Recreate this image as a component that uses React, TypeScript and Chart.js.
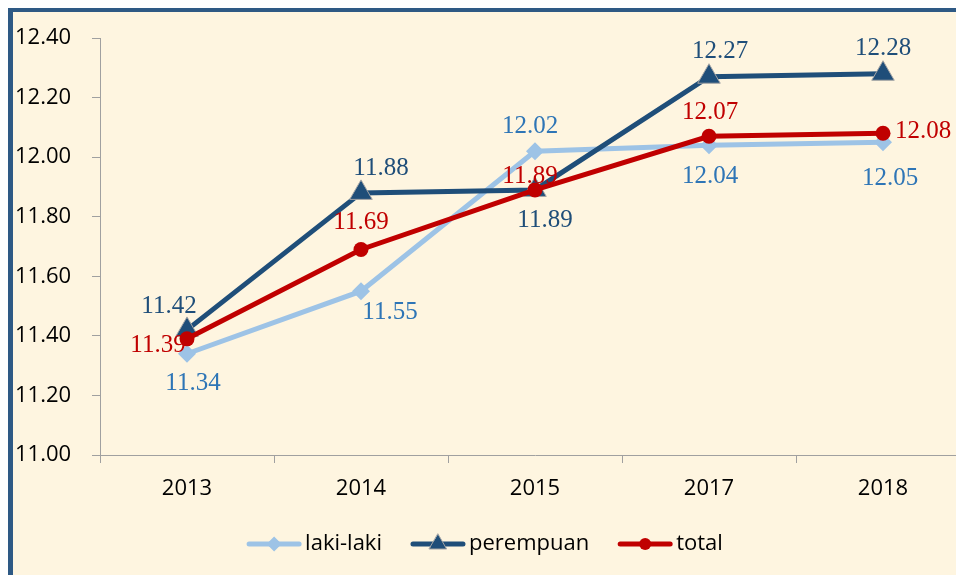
import React, { useEffect, useRef } from "react";
import { Chart, registerables } from "chart.js";

Chart.register(...registerables);

const years = ["2013", "2014", "2015", "2017", "2018"];
const lakiLaki = [11.34, 11.55, 12.02, 12.04, 12.05];
const perempuan = [11.42, 11.88, 11.89, 12.27, 12.28];
const total = [11.39, 11.69, 11.89, 12.07, 12.08];
const seriesNames = ["laki-laki", "perempuan", "total"];
const yMin = 11;
const yMax = 12.4;
const yStep = 0.2;

// label placement (dx, dy from point) per series
const labelOffsets = [
  [[6, 30], [29, 21], [-5, -25], [1, 31], [7, 36]],
  [[-18, -23], [20, -24], [10, 31], [11, -25], [0, -25]],
  [[-29, 7], [0, -27], [-5, -13], [1, -24], [40, -2]],
];

const lineColors = ["#9DC3E6", "#1F4E79", "#C00000"];
const labelColors = ["#2E75B6", "#1F4E79", "#C00000"];
const markers = ["rectRot", "triangle", "circle"];

const tickFont = { family: "'Open Sans', sans-serif", size: 22 };
const labelFont = "25px 'Liberation Serif', serif";

function drawMarker(ctx: CanvasRenderingContext2D, kind: string, x: number, y: number, r: number, fill: string) {
  ctx.save();
  ctx.fillStyle = fill;
  ctx.beginPath();
  if (kind === "rectRot") {
    ctx.moveTo(x - r, y);
    ctx.lineTo(x, y - r);
    ctx.lineTo(x + r, y);
    ctx.lineTo(x, y + r);
    ctx.closePath();
    ctx.fill();
  } else if (kind === "triangle") {
    ctx.moveTo(x, y - r);
    ctx.lineTo(x + r * 0.866, y + r * 0.5);
    ctx.lineTo(x - r * 0.866, y + r * 0.5);
    ctx.closePath();
    ctx.fill();
    ctx.strokeStyle = "#A5A5A5";
    ctx.lineWidth = 1;
    ctx.stroke();
  } else {
    ctx.arc(x, y, r, 0, Math.PI * 2);
    ctx.fill();
  }
  ctx.restore();
}

const dataLabelPlugin = {
  id: "dataLabelPlugin",
  afterDatasetsDraw(chart: any) {
    const ctx: CanvasRenderingContext2D = chart.ctx;
    ctx.save();
    ctx.font = labelFont;
    ctx.textAlign = "center";
    ctx.textBaseline = "middle";
    chart.data.datasets.forEach((ds: any, i: number) => {
      const meta = chart.getDatasetMeta(i);
      meta.data.forEach((pt: any, j: number) => {
        const v = ds.data[j] as number;
        const [dx, dy] = labelOffsets[i][j];
        ctx.fillStyle = labelColors[i];
        ctx.fillText(v.toFixed(2), pt.x + dx, pt.y + dy);
      });
    });
    ctx.restore();
  },
};

const legendPlugin = {
  id: "customLegend",
  afterDraw(chart: any) {
    const ctx: CanvasRenderingContext2D = chart.ctx;
    ctx.save();
    ctx.font = `${tickFont.size}px ${tickFont.family}`;
    const lineLen = 54;
    const gap = 4;
    const itemGap = 29;
    const widths = seriesNames.map((n) => lineLen + gap + ctx.measureText(n).width);
    const totalW = widths.reduce((a, b) => a + b, 0) + itemGap * (seriesNames.length - 1);
    const cx = 472;
    const cy = 532;
    let x = cx - totalW / 2;
    const markerR = [7.5, 10, 6];
    seriesNames.forEach((n, i) => {
      ctx.strokeStyle = lineColors[i];
      ctx.lineWidth = 5;
      ctx.lineCap = "round";
      ctx.beginPath();
      ctx.moveTo(x + 2, cy);
      ctx.lineTo(x + lineLen - 2, cy);
      ctx.stroke();
      drawMarker(ctx, markers[i], x + lineLen / 2, cy, markerR[i], lineColors[i]);
      ctx.fillStyle = "#000";
      ctx.textAlign = "left";
      ctx.textBaseline = "middle";
      ctx.fillText(n, x + lineLen + gap, cy);
      x += widths[i] + itemGap;
    });
    ctx.restore();
  },
};

export default function App() {
  const ref = useRef<HTMLCanvasElement | null>(null);
  useEffect(() => {
    if (!ref.current) return;
    const series = [lakiLaki, perempuan, total];
    const chart = new Chart(ref.current, {
      type: "line",
      data: {
        labels: years,
        datasets: series.map((d, i) => ({
          label: seriesNames[i],
          data: d,
          borderColor: lineColors[i],
          backgroundColor: lineColors[i],
          borderWidth: 5,
          pointStyle: markers[i] as any,
          pointRadius: [9, 13, 7.5][i],
          pointBackgroundColor: lineColors[i],
          pointBorderColor: i === 1 ? "#A5A5A5" : lineColors[i],
          pointBorderWidth: i === 1 ? 1 : 0,
          tension: 0,
          order: 3 - i,
          clip: false as any,
        })),
      },
      options: {
        responsive: false,
        animation: false,
        devicePixelRatio: 1,
        layout: { padding: { top: 26, right: 23, bottom: 0, left: 2 } },
        plugins: { legend: { display: false }, tooltip: { enabled: false } },
        scales: {
          x: {
            type: "category",
            offset: true,
            grid: { offset: true, drawOnChartArea: false, drawTicks: true, tickLength: 8, color: "#A0A0A0" },
            border: { color: "#A0A0A0", width: 1 },
            ticks: { font: tickFont, color: "#000", padding: 13, maxRotation: 0 },
            afterFit: (s: any) => {
              s.height = 120;
            },
          },
          y: {
            min: yMin,
            max: yMax,
            grid: { drawOnChartArea: false, drawTicks: true, tickLength: 8, color: "#A0A0A0" },
            border: { color: "#A0A0A0", width: 1 },
            ticks: {
              stepSize: yStep,
              font: tickFont,
              color: "#000",
              padding: 0,
              crossAlign: "far",
              callback: (v: any) => Number(v).toFixed(2),
            },
            afterFit: (s: any) => {
              s.width = 85;
            },
          },
        },
      },
      plugins: [dataLabelPlugin, legendPlugin],
    });
    return () => chart.destroy();
  }, []);

  return (
    <div
      style={{
        width: 956,
        height: 567,
        overflow: "hidden",
        boxSizing: "border-box",
        borderTop: "4px solid #2E5984",
        borderLeft: "5px solid #2E5984",
        background: "#FEF5E0",
      }}
    >
      <canvas ref={ref} width={980} height={563} style={{ display: "block" }} />
    </div>
  );
}
